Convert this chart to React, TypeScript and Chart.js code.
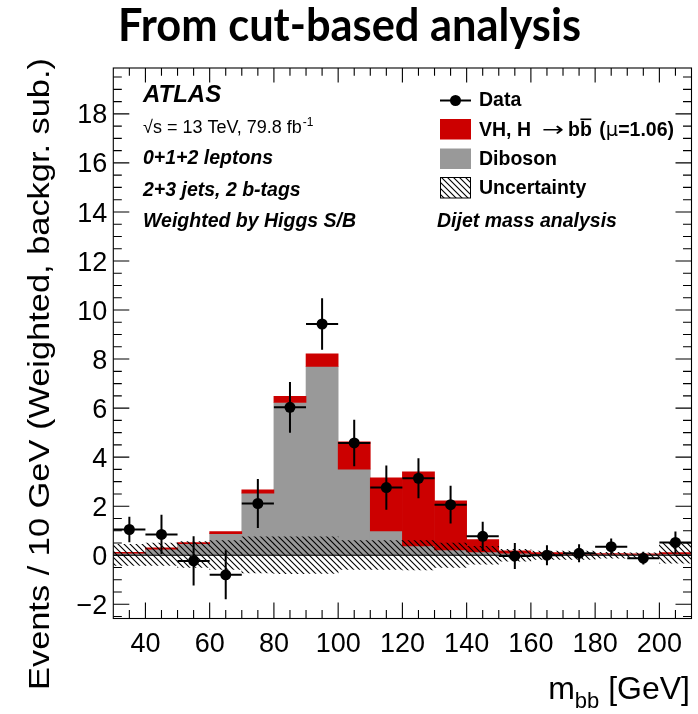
import React, { useEffect, useRef } from 'react';
import { Chart, registerables } from 'chart.js';

Chart.register(...registerables);

// m_bb bins, 10 GeV wide from 30 to 210 GeV
const binLabels = [
  '30-40', '40-50', '50-60', '60-70', '70-80', '80-90', '90-100', '100-110', '110-120',
  '120-130', '130-140', '140-150', '150-160', '160-170', '170-180', '180-190', '190-200', '200-210',
];
const binCenters = [35, 45, 55, 65, 75, 85, 95, 105, 115, 125, 135, 145, 155, 165, 175, 185, 195, 205];

// Background-subtracted, S/B-weighted data and its statistical error
const dataValues = [1.05, 0.85, -0.23, -0.8, 2.11, 6.03, 9.43, 4.58, 2.76, 3.14, 2.06, 0.77, -0.03, 0.0, 0.08, 0.35, -0.12, 0.52];
const dataErrors = [0.52, 0.8, 1.0, 1.0, 1.0, 1.03, 1.05, 0.95, 0.9, 0.82, 0.77, 0.6, 0.53, 0.41, 0.37, 0.33, 0.26, 0.45];

// Stacked predictions
const dibosonValues = [0.08, 0.25, 0.47, 0.88, 2.53, 6.23, 7.7, 3.51, 0.99, 0.38, 0.22, 0.14, 0.08, 0.05, 0.04, 0.04, 0.03, 0.05];
const vhValues = [0.04, 0.05, 0.05, 0.08, 0.14, 0.25, 0.51, 1.11, 2.17, 3.02, 2.0, 0.5, 0.1, 0.06, 0.04, 0.03, 0.03, 0.06];

// Uncertainty band around zero
const uncUp = [0.44, 0.5, 0.56, 0.6, 0.75, 0.75, 0.75, 0.6, 0.6, 0.6, 0.5, 0.36, 0.24, 0.17, 0.17, 0.12, 0.1, 0.5];
const uncDown = [0.42, 0.42, 0.5, 0.58, 0.72, 0.75, 0.74, 0.58, 0.58, 0.6, 0.5, 0.36, 0.24, 0.17, 0.17, 0.12, 0.1, 0.32];

const xTickValues = [40, 60, 80, 100, 120, 140, 160, 180, 200];
const yTickValues = [-2, 0, 2, 4, 6, 8, 10, 12, 14, 16, 18];

const X_MIN = 30;
const X_MAX = 210;
const Y_MIN = -2.58;
const Y_MAX = 19.87;
const BIN_HALF_WIDTH = 5;

const RED = '#cc0000';
const GREY = '#999999';
const HELV = '"Liberation Sans", Arial, Helvetica, sans-serif';
const SYMB = '"DejaVu Sans", "Liberation Sans", sans-serif';

function makeHatch(): CanvasPattern | string {
  const c = document.createElement('canvas');
  c.width = 6;
  c.height = 6;
  const g = c.getContext('2d');
  if (!g) return 'rgba(0,0,0,0.4)';
  g.strokeStyle = '#000';
  g.lineWidth = 1.1;
  g.beginPath();
  g.moveTo(-1, -1);
  g.lineTo(7, 7);
  g.moveTo(5, -1);
  g.lineTo(7, 1);
  g.moveTo(-1, 5);
  g.lineTo(1, 7);
  g.stroke();
  return g.createPattern(c, 'repeat') || 'rgba(0,0,0,0.4)';
}

function text(
  ctx: CanvasRenderingContext2D,
  s: string,
  x: number,
  y: number,
  font: string,
  align: CanvasTextAlign = 'left',
): number {
  ctx.font = font;
  ctx.textAlign = align;
  ctx.textBaseline = 'alphabetic';
  ctx.fillStyle = '#000';
  ctx.fillText(s, x, y);
  return ctx.measureText(s).width;
}

export default function App() {
  const canvasRef = useRef<HTMLCanvasElement | null>(null);

  useEffect(() => {
    const canvas = canvasRef.current;
    if (!canvas) return;
    const hatch = makeHatch();

    const decor = {
      id: 'atlasDecor',
      beforeDatasetDraw(chart: any, args: any) {
        if (args.index !== 0) return;
        const { ctx, chartArea } = chart;
        const xs = chart.scales.xl;
        const ys = chart.scales.y;
        ctx.save();
        // zero line
        const y0 = ys.getPixelForValue(0);
        ctx.strokeStyle = '#000';
        ctx.lineWidth = 1;
        ctx.beginPath();
        ctx.moveTo(chartArea.left, y0);
        ctx.lineTo(chartArea.right, y0);
        ctx.stroke();
        // error bars
        ctx.lineWidth = 2;
        ctx.beginPath();
        binCenters.forEach((c, i) => {
          const px = xs.getPixelForValue(c);
          const py = ys.getPixelForValue(dataValues[i]);
          ctx.moveTo(xs.getPixelForValue(c - BIN_HALF_WIDTH), py);
          ctx.lineTo(xs.getPixelForValue(c + BIN_HALF_WIDTH), py);
          ctx.moveTo(px, ys.getPixelForValue(dataValues[i] + dataErrors[i]));
          ctx.lineTo(px, ys.getPixelForValue(dataValues[i] - dataErrors[i]));
        });
        ctx.stroke();
        ctx.restore();
      },
      afterDraw(chart: any) {
        const { ctx, chartArea } = chart;
        const { left, right, top, bottom } = chartArea;
        const xs = chart.scales.xl;
        const ys = chart.scales.y;
        ctx.save();

        // frame and inward ticks on all four sides
        ctx.strokeStyle = '#000';
        ctx.lineWidth = 1.1;
        ctx.strokeRect(left, top, right - left, bottom - top);
        const MAJ = 16;
        const MIN = 8.5;
        ctx.beginPath();
        for (let v = X_MIN + 5; v < X_MAX; v += 5) {
          const px = xs.getPixelForValue(v);
          const len = (v - 40) % 20 === 0 ? MAJ : MIN;
          ctx.moveTo(px, bottom);
          ctx.lineTo(px, bottom - len);
          ctx.moveTo(px, top);
          ctx.lineTo(px, top + len * 0.9);
        }
        for (let k = -5; k <= 39; k++) {
          const v = k * 0.5;
          if (v <= Y_MIN || v >= Y_MAX) continue;
          const py = ys.getPixelForValue(v);
          const len = k % 4 === 0 ? MAJ : MIN;
          ctx.moveTo(left, py);
          ctx.lineTo(left + len, py);
          ctx.moveTo(right, py);
          ctx.lineTo(right - len, py);
        }
        ctx.stroke();

        // tick labels
        const tickFont = `27px ${HELV}`;
        xTickValues.forEach((v) => {
          text(ctx, String(v), xs.getPixelForValue(v), 652, tickFont, 'center');
        });
        yTickValues.forEach((v) => {
          const lab = v < 0 ? `\u2212${Math.abs(v)}` : String(v);
          text(ctx, lab, left - 6, ys.getPixelForValue(v) + 9.6, tickFont, 'right');
        });

        // axis titles
        ctx.save();
        ctx.translate(49, 58);
        ctx.rotate(-Math.PI / 2);
        ctx.font = `30px ${HELV}`;
        const yTitle = 'Events / 10 GeV (Weighted, backgr. sub.)';
        const yw = ctx.measureText(yTitle).width;
        ctx.scale(632 / yw, 1);
        text(ctx, yTitle, 0, 0, `30px ${HELV}`, 'right');
        ctx.restore();

        {
          const fMain = `32px ${HELV}`;
          const fSub = `22px ${HELV}`;
          ctx.font = fMain;
          const wm = ctx.measureText('m').width;
          const wg = ctx.measureText(' [GeV]').width;
          ctx.font = fSub;
          const wb = ctx.measureText('bb').width;
          let x = 690 - (wm + wb + wg);
          x += text(ctx, 'm', x, 699, fMain);
          x += text(ctx, 'bb', x, 708, fSub);
          text(ctx, ' [GeV]', x, 699, fMain);
        }

        // title
        {
          const f = `bold 45px Lato, "Open Sans", sans-serif`;
          ctx.font = f;
          const t = 'From cut-based analysis';
          const w = ctx.measureText(t).width;
          const sx = Math.min(1, 463 / w);
          ctx.save();
          ctx.translate(349.5, 41);
          ctx.scale(sx, 1);
          text(ctx, t, 0, 0, f, 'center');
          ctx.restore();
        }

        // ATLAS label block
        const lx = 143;
        text(ctx, 'ATLAS', lx, 102, `italic bold 24px ${HELV}`);
        {
          const f = `18px ${HELV}`;
          let x = lx;
          x += text(ctx, '\u221As = 13 TeV, 79.8 fb', x, 133, f);
          text(ctx, '-1', x + 1, 126, `12px ${HELV}`);
        }
        const bi = `italic bold 19.5px ${HELV}`;
        text(ctx, '0+1+2 leptons', lx, 164, bi);
        text(ctx, '2+3 jets, 2 b-tags', lx, 196, bi);
        text(ctx, 'Weighted by Higgs S/B', lx, 227, bi);

        // legend
        const bx = 440;
        const bw = 31;
        const tx = 479;
        const lb = `bold 19.5px ${HELV}`;
        ctx.strokeStyle = '#000';
        ctx.lineWidth = 2;
        ctx.beginPath();
        ctx.moveTo(bx, 100.5);
        ctx.lineTo(bx + bw, 100.5);
        ctx.stroke();
        ctx.fillStyle = '#000';
        ctx.beginPath();
        ctx.arc(bx + bw / 2, 100.5, 5.5, 0, Math.PI * 2);
        ctx.fill();
        text(ctx, 'Data', tx, 106, lb);

        ctx.fillStyle = RED;
        ctx.fillRect(bx, 119, bw, 20.5);
        {
          let x = tx;
          x += text(ctx, 'VH, H', x, 136, lb);
          x += 11;
          // wider arrow glyph, stretched horizontally
          ctx.save();
          ctx.translate(x, 136);
          ctx.font = `20px ${SYMB}`;
          const aw = ctx.measureText('\u2192').width;
          ctx.scale(22 / aw, 1);
          text(ctx, '\u2192', 0, 0, `20px ${SYMB}`);
          ctx.restore();
          x += 26;
          const wb1 = text(ctx, 'b', x, 136, lb);
          x += wb1;
          const wb2 = text(ctx, 'b', x, 136, lb);
          ctx.fillStyle = '#000';
          ctx.fillRect(x + 0.5, 118.5, wb2 - 1, 1.6);
          x += wb2 + 2;
          x += text(ctx, ' (', x, 136, lb);
          x += text(ctx, '\u03BC', x, 136, `19.5px ${SYMB}`);
          text(ctx, '=1.06)', x, 136, lb);
        }

        ctx.fillStyle = GREY;
        ctx.fillRect(bx, 148.5, bw, 20.5);
        text(ctx, 'Diboson', tx, 165, lb);

        ctx.fillStyle = '#fff';
        ctx.fillRect(bx, 177.5, bw, 20.5);
        ctx.fillStyle = hatch as any;
        ctx.fillRect(bx, 177.5, bw, 20.5);
        ctx.strokeStyle = '#000';
        ctx.lineWidth = 1;
        ctx.strokeRect(bx + 0.5, 177.5, bw - 1, 20.5);
        text(ctx, 'Uncertainty', tx, 194, lb);

        text(ctx, 'Dijet mass analysis', 437, 227, `italic bold 19.5px ${HELV}`);

        ctx.restore();
      },
    };

    const chart = new Chart(canvas, {
      type: 'bar',
      data: {
        labels: binLabels,
        datasets: [
          {
            type: 'scatter',
            label: 'Data',
            data: binCenters.map((x, i) => ({ x, y: dataValues[i] })),
            xAxisID: 'xl',
            yAxisID: 'y',
            order: 0,
            backgroundColor: '#000',
            borderColor: '#000',
            borderWidth: 0,
            pointRadius: 5.5,
            pointHoverRadius: 5.5,
          } as any,
          {
            label: 'Uncertainty',
            data: uncUp.map((u, i) => [-uncDown[i], u]),
            backgroundColor: hatch as any,
            order: 1,
            grouped: false,
            xAxisID: 'x',
            yAxisID: 'y',
          } as any,
          {
            label: 'VH, H \u2192 bb (\u03BC=1.06)',
            data: vhValues.map((v, i) => [dibosonValues[i], dibosonValues[i] + v]),
            backgroundColor: RED,
            order: 2,
            grouped: false,
            xAxisID: 'x',
            yAxisID: 'y',
          } as any,
          {
            label: 'Diboson',
            data: dibosonValues.map((d) => [0, d]),
            backgroundColor: GREY,
            order: 3,
            grouped: false,
            xAxisID: 'x',
            yAxisID: 'y',
          } as any,
        ],
      },
      options: {
        responsive: false,
        animation: false,
        events: [],
        devicePixelRatio: 1,
        layout: { padding: { left: 113.3, right: 6.5, top: 68, bottom: 95.5 } },
        datasets: {
          bar: { barPercentage: 1, categoryPercentage: 1, borderWidth: 0 },
        } as any,
        scales: {
          x: { type: 'category', display: false, offset: true },
          xl: { type: 'linear', display: false, offset: false, min: X_MIN, max: X_MAX },
          y: { type: 'linear', display: false, min: Y_MIN, max: Y_MAX },
        },
        plugins: {
          legend: { display: false },
          tooltip: { enabled: false },
          title: { display: false },
        },
      },
      plugins: [decor],
    } as any);

    return () => chart.destroy();
  }, []);

  return (
    <div style={{ position: 'fixed', left: 0, top: 0, width: 698, height: 714, background: '#fff' }}>
      <canvas ref={canvasRef} width={698} height={714} style={{ display: 'block', width: 698, height: 714 }} />
    </div>
  );
}
